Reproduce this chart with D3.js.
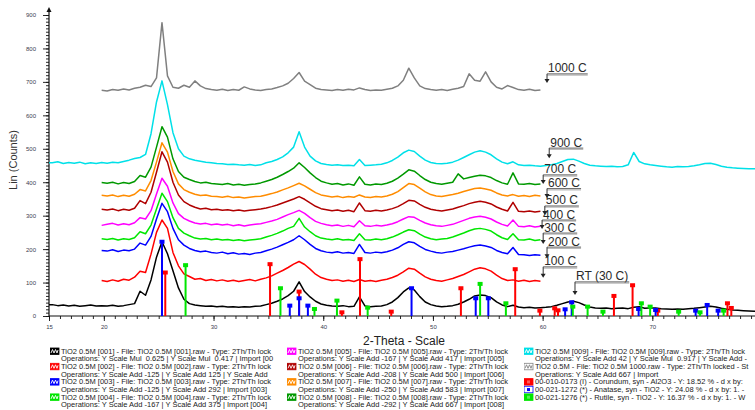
<!DOCTYPE html>
<html>
<head>
<meta charset="utf-8">
<script src="https://cdn.jsdelivr.net/npm/d3@7"></script>
<style>
  html, body { margin: 0; padding: 0; background: #fff; }
  svg { display: block; font-family: Arial, "Liberation Sans", sans-serif; }
  .legend-text { white-space: pre; }
</style>
</head>
<body>
<div id="chart"></div>
<script>
// XRD patterns of TiO2 0.5M annealed at different temperatures

// Scan grid (2-Theta, degrees)
const scanStep = 0.5;
const wideStart = 14.8;   // RT and 900 C scans run over the full range
const narrowStart = 19.8; // the other scans run from 20 to 60

// Counts (already stacked by the Y Scale Add offsets)
const scanRT = [33, 34,31,33,30,32,29,31,33,30,31, 30,32,29,31,34,37,74,62,108,176,
  222,186,135,84,50,37,33,31,29,30, 28,29,27,28,26,28,27,29,30,34,
  38,44,51,61,74,102,73,57,44,36, 32,30,29,31,28,29,57,30,28,29,
  30,34,42,55,72,84,78,58,42,34, 30,28,29,31,35,42,50,60,63,61,
  55,42,33,28,32,27,25,26,24,25, 26,28,32,37,42,44,40,33,27,24,
  23,24,22,23,24,22,26,28,23,24, 24,22,21,20,21,20,22,23,25,27,
  29,27,23,20,18,17,16,15,14, 14];
const scan100 = [106, 103,108,104,110,107,116,134,130,185,250, 287,262,190,150,126,118,110,112,106,109,
  105,108,104,107,103,106,109,105,110,114, 120,128,136,145,155,163,154,140,125,115,
  110,106,108,104,107,103,109,104,106,103, 107,110,115,122,132,143,140,128,117,110,
  106,104,108,112,118,124,132,140,144,141, 134,122,112,106,108,104,107,103,106,104];
const scan200 = [196, 194,198,193,197,195,200,218,212,238,290, 337,312,262,228,212,202,196,192,194,190,
  188,191,186,189,185,187,184,188,190,195, 200,206,213,220,228,240,228,214,202,195,
  191,189,192,188,190,187,214,190,188,191, 189,192,197,204,214,222,219,208,199,194,
  190,188,191,193,197,201,206,210,212,209, 205,196,190,186,205,184,183,181,183,182];
const scan300 = [231, 229,232,227,231,229,234,252,246,272,320, 367,342,294,262,248,240,233,230,232,228,
  230,227,229,226,228,225,227,229,231,236, 241,247,254,262,268,292,266,252,240,233,
  230,228,231,227,229,226,246,228,227,230, 228,231,236,243,251,258,255,245,236,231,
  228,230,232,236,242,248,255,260,262,259, 254,243,234,229,246,228,227,230,226,228];
const scan400 = [271, 274,277,272,276,273,279,294,290,315,365, 412,388,338,306,292,284,278,275,277,273,
  275,272,274,270,273,269,272,274,276,280, 284,289,296,303,309,316,307,294,283,277,
  273,270,272,268,271,267,285,270,268,271, 269,272,276,282,290,297,295,286,278,273,
  270,268,271,274,280,286,292,296,298,295, 290,281,274,269,287,268,267,270,266,268];
const scan500 = [319, 317,320,315,319,316,322,345,336,370,430, 491,460,400,362,342,332,325,320,322,318,
  319,316,318,315,317,314,316,318,320,323, 327,332,338,344,350,357,349,338,328,321,
  318,315,317,313,316,312,338,315,313,316, 314,317,321,327,336,346,344,334,325,319,
  316,314,317,320,325,330,336,340,343,340, 335,326,319,314,340,313,312,314,311,313];
const scan600 = [361, 359,362,357,361,358,364,378,374,405,460, 518,490,432,395,378,370,364,360,362,358,
  357,355,358,354,356,353,355,357,358,362, 366,371,377,383,390,397,389,379,369,362,
  359,356,358,354,357,355,362,356,354,357, 356,359,364,372,384,396,393,382,371,363,
  359,357,360,363,367,372,377,381,383,380, 376,368,362,359,363,358,360,357,361,359];
const scan700 = [399, 397,400,395,399,396,402,420,415,445,505, 566,535,470,432,415,408,402,398,400,396,
  395,393,396,392,394,391,393,395,398,403, 408,415,423,432,442,458,444,428,414,403,
  398,394,396,392,395,391,416,394,392,395, 393,397,403,412,424,437,433,420,408,400,
  396,394,397,400,425,410,414,418,421,419, 414,405,398,394,428,395,394,396,393,395];
const scan900 = [458, 458,461,456,459,457,460,455,458,456,459, 457,460,458,462,466,471,474,483,545,640,
  703,632,548,500,478,470,466,463,460,458, 456,455,453,454,452,451,453,450,452,458,
  462,468,476,488,505,551,505,478,464,456, 453,451,452,450,451,449,468,450,451,452,
  454,458,465,475,488,496,492,478,466,459, 456,455,457,460,466,474,482,490,494,490,
  482,470,460,455,461,452,450,451,449,448, 450,452,456,462,468,469,463,456,451,449,
  448,447,448,446,447,452,489,462,455,452, 450,448,446,445,447,446,447,449,452,456,
  457,453,448,445,443,442,441,440,440, 440];
const scan1000 = [675, 673,677,675,679,676,681,684,690,686,712, 877,718,684,681,690,684,703,688,680,677,
  675,678,674,677,675,685,679,676,674,677, 679,683,688,696,710,728,702,692,681,677,
  676,674,677,675,678,676,682,677,674,676, 675,678,681,688,705,741,712,688,680,677,
  675,677,674,678,681,686,724,705,702,730, 700,684,679,689,683,677,675,678,674,676];

const scanValues = [scanRT, scan100, scan200, scan300, scan400, scan500, scan600, scan700, scan900, scan1000];
const scanStarts = [wideStart, narrowStart, narrowStart, narrowStart, narrowStart, narrowStart, narrowStart, narrowStart, wideStart, narrowStart];
const scanColors = ['#000000', '#ff0000', '#0000ff', '#00e600', '#ff00ff', '#b00000', '#ff8c00', '#009900', '#00e0e8', '#808080'];

// Reference patterns (stick lines)
const corundumTheta = [25.6, 35.15, 37.8, 41.7, 43.35, 46.2, 52.55, 57.5, 59.75, 61.1, 61.4, 66.5, 68.2, 70.5, 76.85, 77.2];
const corundumCounts = [130, 155, 73, 11, 170, 13, 83, 140, 16, 23, 17, 60, 92, 16, 38, 24];
const anataseTheta = [25.3, 36.95, 37.8, 38.6, 48.05, 53.9, 55.05, 62.05, 62.65, 68.75, 70.3, 73.95, 75.0, 76.0];
const anataseCounts = [222, 31, 53, 31, 83, 53, 53, 20, 41, 21, 18, 16, 33, 16];
const rutileTheta = [27.45, 36.1, 39.2, 41.25, 44.05, 54.3, 56.65, 62.75, 64.1, 65.5, 69.0, 69.8, 72.4, 74.35, 76.5];
const rutileCounts = [152, 83, 21, 46, 25, 96, 38, 28, 28, 13, 38, 28, 13, 11, 16];
const stickColors = ['#ff0000', '#0000ff', '#00e600'];

// Temperature labels with arrows
const labelText = ['1000 C', '900 C', '700 C', '600 C', '500 C', '400 C', '300 C', '200 C', '100 C', 'RT (30 C)'];
const labelTheta = [60.4, 60.6, 60.05, 60.4, 60.2, 59.95, 60.05, 60.4, 60.05, 62.95];
const labelLineCounts = [724, 502, 422, 381, 329, 287, 248, 206, 147, 102];
const labelTipCounts = [697, 472, 395, 353, 302, 260, 215, 173, 114, 63];

// Axis ticks
const yMajorTicks = [0, 100, 200, 300, 400, 500, 600, 700, 800, 900];
const xMajorTicks = [15, 20, 30, 40, 50, 60, 70];

// Legend (text as far as it is visible in the picture)
const legendLine1 = [
  'TiO2 0.5M [001] - File: TiO2 0.5M [001].raw - Type: 2Th/Th lock',
  'TiO2 0.5M [002] - File: TiO2 0.5M [002].raw - Type: 2Th/Th lock',
  'TiO2 0.5M [003] - File: TiO2 0.5M [003].raw - Type: 2Th/Th lock',
  'TiO2 0.5M [004] - File: TiO2 0.5M [004].raw - Type: 2Th/Th lock',
  'TiO2 0.5M [005] - File: TiO2 0.5M [005].raw - Type: 2Th/Th lock',
  'TiO2 0.5M [006] - File: TiO2 0.5M [006].raw - Type: 2Th/Th lock',
  'TiO2 0.5M [007] - File: TiO2 0.5M [007].raw - Type: 2Th/Th lock',
  'TiO2 0.5M [008] - File: TiO2 0.5M [008].raw - Type: 2Th/Th lock',
  'TiO2 0.5M [009] - File: TiO2 0.5M [009].raw - Type: 2Th/Th lock',
  'TiO2 0.5M - File: TiO2 0.5M 1000.raw - Type: 2Th/Th locked - St',
  '00-010-0173 (I) - Corundum, syn - Al2O3 - Y: 18.52 % - d x by:',
  '00-021-1272 (*) - Anatase, syn - TiO2 - Y: 24.08 % - d x by: 1. -',
  '00-021-1276 (*) - Rutile, syn - TiO2 - Y: 16.37 % - d x by: 1. - W'
];
const legendLine2 = [
  'Operations: Y Scale Mul  0.625 | Y Scale Mul  0.417 | Import [00',
  'Operations: Y Scale Add -125 | Y Scale Add 125 | Y Scale Add',
  'Operations: Y Scale Add -125 | Y Scale Add 292 | Import [003]',
  'Operations: Y Scale Add -167 | Y Scale Add 375 | Import [004]',
  'Operations: Y Scale Add -167 | Y Scale Add 417 | Import [005]',
  'Operations: Y Scale Add -208 | Y Scale Add 500 | Import [006]',
  'Operations: Y Scale Add -250 | Y Scale Add 583 | Import [007]',
  'Operations: Y Scale Add -292 | Y Scale Add 667 | Import [008]',
  'Operations: Y Scale Add 42 | Y Scale Mul  0.917 | Y Scale Add -',
  'Operations: Y Scale Add 667 | Import',
  '', '', ''
];
const legendColors = scanColors.concat(stickColors);
const legendColumn = [0, 0, 0, 0, 1, 1, 1, 1, 2, 2, 2, 2, 2];

const width = 755;
const height = 410;

const svg = d3.select('#chart')
  .append('svg')
  .attr('width', width)
  .attr('height', height);

const x = d3.scaleLinear().domain([15, 79.36]).range([49, 755]);
const y = d3.scaleLinear().domain([0, 900]).range([316, 15]);

svg.append('defs').append('clipPath')
  .attr('id', 'plot-clip')
  .append('rect')
  .attr('x', 49).attr('y', 0)
  .attr('width', 706).attr('height', 317);

// Axes
const yAxisMinor = svg.append('g')
  .attr('transform', 'translate(49,0)')
  .call(d3.axisLeft(y).tickValues(d3.range(0, 901, 10)).tickSize(3).tickFormat(''));
yAxisMinor.select('.domain').remove();

const yAxis = svg.append('g')
  .attr('transform', 'translate(49,0)')
  .call(d3.axisLeft(y).tickValues(yMajorTicks).tickSize(6).tickPadding(7));
yAxis.select('.domain').attr('d', 'M0,316V9');

const xAxisMinor = svg.append('g')
  .attr('transform', 'translate(0,316)')
  .call(d3.axisBottom(x).tickValues(d3.range(15, 80, 1)).tickSize(3).tickFormat(''));
xAxisMinor.select('.domain').remove();

const xAxis = svg.append('g')
  .attr('transform', 'translate(0,316)')
  .call(d3.axisBottom(x).tickValues(xMajorTicks).tickSize(5).tickPadding(4));
xAxis.select('.domain').attr('d', 'M49,0H755');

svg.selectAll('.tick line').attr('stroke', '#111').attr('stroke-width', 0.9);
svg.selectAll('.domain').attr('stroke', '#111').attr('stroke-width', 1.2);
svg.selectAll('.tick text')
  .attr('font-size', 6)
  .attr('fill', '#3a4050')
  .attr('font-family', 'Arial, "Liberation Sans", sans-serif');

// small arrow at the top of the y axis
svg.append('path')
  .attr('d', 'M46.5,12 L49,7 L51.5,12 Z')
  .attr('fill', '#111');

// Axis titles
svg.append('text')
  .attr('transform', 'translate(17,160) rotate(-90)')
  .attr('text-anchor', 'middle')
  .attr('font-size', 11)
  .attr('fill', '#333')
  .text('Lin (Counts)');

svg.append('text')
  .attr('x', 404)
  .attr('y', 345)
  .attr('text-anchor', 'middle')
  .attr('font-size', 12)
  .attr('fill', '#222')
  .text('2-Theta - Scale');

// Scans
const plot = svg.append('g').attr('clip-path', 'url(#plot-clip)');

scanValues.forEach((values, k) => {
  const start = scanStarts[k];
  const line = d3.line()
    .x((d, i) => x(start + i * scanStep))
    .y(d => y(d));
  plot.append('path')
    .datum(values)
    .attr('d', line)
    .attr('fill', 'none')
    .attr('stroke', scanColors[k])
    .attr('stroke-width', 1.5)
    .attr('stroke-linejoin', 'round');
});

// Reference sticks
const sticks = [
  { theta: corundumTheta, counts: corundumCounts, color: stickColors[0] },
  { theta: anataseTheta, counts: anataseCounts, color: stickColors[1] },
  { theta: rutileTheta, counts: rutileCounts, color: stickColors[2] }
];

sticks.forEach(phase => {
  const g = plot.append('g');
  const data = phase.theta.map((t, i) => ({ t: t, c: phase.counts[i] }));
  g.selectAll('line')
    .data(data)
    .enter()
    .append('line')
    .attr('x1', d => x(d.t)).attr('x2', d => x(d.t))
    .attr('y1', y(0)).attr('y2', d => y(d.c))
    .attr('stroke', phase.color)
    .attr('stroke-width', 2);
  g.selectAll('rect')
    .data(data)
    .enter()
    .append('rect')
    .attr('x', d => x(d.t) - 2.5)
    .attr('y', d => y(d.c) - 2)
    .attr('width', 5)
    .attr('height', 4)
    .attr('fill', phase.color);
});

// Temperature labels
labelText.forEach((label, i) => {
  const ax = x(labelTheta[i]);
  const ly = y(labelLineCounts[i]);
  const tip = y(labelTipCounts[i]);
  const g = svg.append('g');
  const t = g.append('text')
    .attr('x', ax + 1)
    .attr('y', ly - 1.5)
    .attr('font-size', 12)
    .attr('fill', '#2a2a2a')
    .text(label);
  const w = t.node().getComputedTextLength();
  g.append('line')
    .attr('x1', ax).attr('x2', ax + w + 2)
    .attr('y1', ly + 1.2).attr('y2', ly + 1.2)
    .attr('stroke', '#bbbbbb').attr('stroke-width', 1.2);
  g.append('line')
    .attr('x1', ax).attr('x2', ax + w + 2)
    .attr('y1', ly).attr('y2', ly)
    .attr('stroke', '#555').attr('stroke-width', 0.9);
  g.append('line')
    .attr('x1', ax).attr('x2', ax)
    .attr('y1', ly).attr('y2', tip - 3)
    .attr('stroke', '#333').attr('stroke-width', 1);
  g.append('path')
    .attr('d', `M${ax - 2.5},${tip - 4} L${ax},${tip} L${ax + 2.5},${tip - 4} Z`)
    .attr('fill', '#222');
});

// Legend
const legendX = [50, 287, 524];
const legendClip = [275, 521, 755];
const legendTop = 348;
const rowStep = 7.65;
const rowCount = [0, 0, 0];

const defs = svg.select('defs');
legendX.forEach((lx, c) => {
  defs.append('clipPath')
    .attr('id', 'legend-clip-' + c)
    .append('rect')
    .attr('x', lx).attr('y', 340)
    .attr('width', legendClip[c] - lx).attr('height', 70);
});

const legendGroups = legendX.map((lx, c) => svg.append('g').attr('clip-path', `url(#legend-clip-${c})`));

legendLine1.forEach((txt, i) => {
  const c = legendColumn[i];
  const g = legendGroups[c];
  const lx = legendX[c];
  const ry = legendTop + rowCount[c] * rowStep;
  const isScan = i < scanColors.length;
  const color = legendColors[i];

  if (isScan) {
    g.append('rect')
      .attr('x', lx).attr('y', ry)
      .attr('width', 9).attr('height', 6.5)
      .attr('fill', color === '#808080' ? '#fff' : color)
      .attr('stroke', color).attr('stroke-width', 0.8);
    g.append('path')
      .attr('d', `M${lx + 1},${ry + 5} L${lx + 2.5},${ry + 1.5} L${lx + 4},${ry + 5} L${lx + 5.5},${ry + 1.5} L${lx + 7},${ry + 5} L${lx + 8},${ry + 2}`)
      .attr('fill', 'none')
      .attr('stroke', color === '#808080' ? '#808080' : '#fff')
      .attr('stroke-width', 0.9);
  } else {
    g.append('rect')
      .attr('x', lx).attr('y', ry)
      .attr('width', 9).attr('height', 6.5)
      .attr('fill', color === '#0000ff' ? '#fff' : color)
      .attr('stroke', color).attr('stroke-width', 0.8);
    g.append('rect')
      .attr('x', lx + 3).attr('y', ry + 1.8)
      .attr('width', 3).attr('height', 3)
      .attr('fill', color === '#0000ff' ? color : '#fff')
      .attr('opacity', color === '#0000ff' ? 1 : 0.35);
  }

  g.append('text')
    .attr('class', 'legend-text')
    .attr('x', lx + 11)
    .attr('y', ry + 5.8)
    .attr('font-size', 7.5)
    .attr('fill', '#222')
    .text(txt);
  rowCount[c] += 1;

  if (legendLine2[i]) {
    g.append('text')
      .attr('class', 'legend-text')
      .attr('x', lx + 11)
      .attr('y', ry + rowStep + 5.8)
      .attr('font-size', 7.5)
      .attr('fill', '#222')
      .text(legendLine2[i]);
    rowCount[c] += 1;
  }
});
</script>
</body>
</html>
